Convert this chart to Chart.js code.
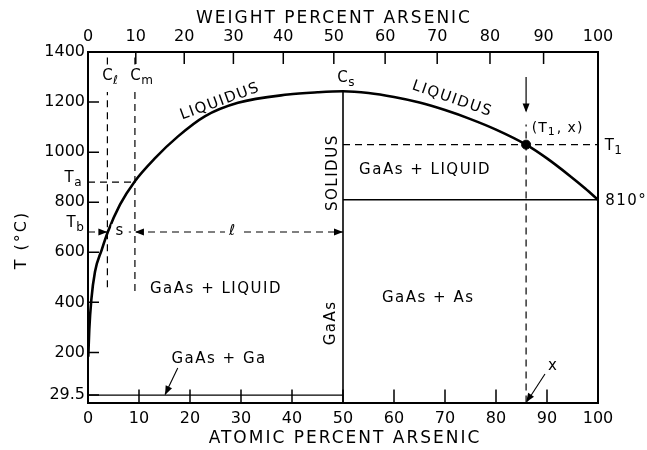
<!DOCTYPE html>
<html><head><meta charset="utf-8">
<script src="https://cdn.jsdelivr.net/npm/chart.js@4.4.1/dist/chart.umd.min.js"></script>
<style>html,body{margin:0;padding:0;background:#fff;}canvas{display:block;}</style>
</head><body>
<canvas id="c" width="647" height="450"></canvas>
<script>
// ---------------- data ----------------
const liquidusAtomic = [0.06, 0.25, 0.65, 1.37, 2.69, 3.92, 6.27, 9.16, 13.1, 17.65, 22.9, 29.4, 39.2, 45, 50, 55, 60, 65, 70, 75, 80, 85.9, 90, 94.5, 97.5, 100];
const liquidusTemp   = [183, 290, 410, 522, 610, 683, 790, 883, 975, 1063, 1143, 1197, 1230, 1239, 1243, 1236, 1220, 1198, 1168, 1132, 1090, 1030, 975, 905, 855, 810];

const gaEutecticT = 29.5;    // GaAs + Ga line
const asEutecticT = 810;     // GaAs + As line
const gaAsMeltT   = 1243;    // congruent melting point
const gaAsAtomic  = 50;      // stoichiometric GaAs
const T1 = 1030, X1 = 85.9;  // (T1, x)
const Ta = 880, Tb = 681;
const Cl = 3.8, Cm = 9.2;
const clTop = 1240, clBottom = 460;

const atomicTicks      = [0, 10, 20, 30, 40, 50, 60, 70, 80, 90, 100];
const weightLabels     = ['0', '10', '20', '30', '40', '50', '60', '70', '80', '90', '100'];
const weightTickAtomic = [0, 9.37, 18.87, 28.51, 38.29, 48.20, 58.26, 68.47, 78.82, 89.33, 100];
const tempTicks        = [29.5, 200, 400, 600, 800, 1000, 1200, 1400];

// ---------------- helpers ----------------
const FAM = '"DejaVu Sans", sans-serif';
const pts = (xs, ys) => xs.map((v, i) => ({x: v, y: ys[i]}));
function seg(data, o = {}) {
  return Object.assign({type: 'line', data, borderColor: '#000', backgroundColor: '#000',
    borderWidth: 1.5, pointRadius: 0, fill: false, tension: 0}, o);
}
const DASH = [7, 5];

const datasets = [
  seg(pts(liquidusAtomic, liquidusTemp), {borderWidth: 2.6, cubicInterpolationMode: 'monotone'}),
  seg(pts([gaAsAtomic, gaAsAtomic], [0, gaAsMeltT]), {borderWidth: 1.6}),
  seg(pts([0, gaAsAtomic], [gaEutecticT, gaEutecticT]), {borderWidth: 1.4}),
  seg(pts([gaAsAtomic, 100], [asEutecticT, asEutecticT]), {borderWidth: 1.4}),
  seg(pts([gaAsAtomic, 100], [T1, T1]), {borderWidth: 1.2, borderDash: DASH}),
  seg(pts([X1, X1], [0, 1110]), {borderWidth: 1.2, borderDash: DASH}),
  seg(pts([X1, X1], [1300, 1165]), {borderWidth: 1.2}),
  seg(pts([Cl, Cl], [clBottom, clTop]), {borderWidth: 1.2, borderDash: DASH}),
  seg(pts([Cl, Cl], [1350, 1400]), {borderWidth: 1.2, borderDash: DASH}),
  seg(pts([Cm, Cm], [clBottom - 15, clTop]), {borderWidth: 1.2, borderDash: DASH}),
  seg(pts([Cm, Cm], [1350, 1400]), {borderWidth: 1.2, borderDash: DASH}),
  seg(pts([0, Cm], [Ta, Ta]), {borderWidth: 1.2, borderDash: DASH}),
  seg(pts([0, gaAsAtomic], [Tb, Tb]), {borderWidth: 1.2, borderDash: DASH}),
  seg(pts([17.6, 15.1], [138, 32]), {borderWidth: 1.1}),
  seg(pts([89.6, 86.1], [114, 4]), {borderWidth: 1.1}),
  {type: 'scatter', data: [{x: X1, y: T1}], pointRadius: 4.5, pointBackgroundColor: '#000', pointBorderColor: '#000'}
];

const arrows = [
  {from: [17.6, 138], to: [15.1, 30]},
  {from: [89.6, 114], to: [85.9, 1]},
  {from: [X1, 1300], to: [X1, 1158]},
  {from: [1.0, Tb], to: [Cl, Tb]},
  {from: [12, Tb], to: [Cm, Tb]},
  {from: [47, Tb], to: [gaAsAtomic, Tb]}
];

const labels = [
  {t: 'LIQUIDUS', x: 25.9, y: 1202, rot: -20},
  {t: 'LIQUIDUS', x: 71.4, y: 1212, rot: 19},
  {t: 'SOLIDUS', x: 48.0, y: 918, rot: -90},
  {t: 'GaAs + LIQUID', x: 66.1, y: 930},
  {t: 'GaAs + LIQUID', x: 25.1, y: 454},
  {t: 'GaAs + As', x: 66.7, y: 418},
  {t: 'GaAs', x: 47.6, y: 318, rot: -90},
  {t: 'GaAs + Ga', x: 25.7, y: 174},
  {t: '810°', x: 101.4, y: 806, align: 'left'},
  {t: 's', x: 6.3, y: 684, bg: true},
  {t: 'ℓ', x: 28.4, y: 684, bg: true},
  {t: 'x', x: 91.2, y: 146}
];
const subLabels = [
  {m: 'T', s: 'a', x: -3.7, y: 898},
  {m: 'T', s: 'b', x: -3.3, y: 718},
  {m: 'T', s: '1', x: 102.2, y: 1026},
  {m: 'C', s: 'ℓ', x: 3.8, y: 1304},
  {m: 'C', s: 'm', x: 9.3, y: 1304},
  {m: 'C', s: 's', x: 49.9, y: 1296}
];

function head(ctx, x1, y1, x2, y2, len = 9, half = 3.5) {
  const a = Math.atan2(y2 - y1, x2 - x1);
  ctx.beginPath();
  ctx.moveTo(x2, y2);
  ctx.lineTo(x2 - len * Math.cos(a) + half * Math.sin(a), y2 - len * Math.sin(a) - half * Math.cos(a));
  ctx.lineTo(x2 - len * Math.cos(a) - half * Math.sin(a), y2 - len * Math.sin(a) + half * Math.cos(a));
  ctx.closePath();
  ctx.fill();
}

const tickPlugin = {
  id: 'ticksIn',
  afterDraw(chart) {
    const {ctx, chartArea} = chart;
    const sx = chart.scales.x, sx2 = chart.scales.x2, sy = chart.scales.y;
    ctx.save();
    ctx.setLineDash([]);
    ctx.strokeStyle = '#000';
    ctx.lineWidth = 1.5;
    ctx.beginPath();
    atomicTicks.forEach(v => { const p = sx.getPixelForValue(v); ctx.moveTo(p, chartArea.bottom); ctx.lineTo(p, chartArea.bottom - 13); });
    weightTickAtomic.forEach(v => { const p = sx2.getPixelForValue(v); ctx.moveTo(p, chartArea.top); ctx.lineTo(p, chartArea.top + 12); });
    tempTicks.forEach(v => { const p = sy.getPixelForValue(v); ctx.moveTo(chartArea.left, p); ctx.lineTo(chartArea.left + 11, p); });
    ctx.stroke();
    ctx.restore();
  }
};

const annot = {
  id: 'annot',
  afterDraw(chart) {
    const {ctx} = chart;
    const sx = chart.scales.x, sy = chart.scales.y;
    const px = v => sx.getPixelForValue(v), py = v => sy.getPixelForValue(v);
    ctx.save();
    ctx.setLineDash([]);
    ctx.fillStyle = '#000';
    // arrowheads
    arrows.forEach(a => head(ctx, px(a.from[0]), py(a.from[1]), px(a.to[0]), py(a.to[1])));
    // plain labels
    ctx.textBaseline = 'middle';
    labels.forEach(l => {
      ctx.save();
      ctx.font = `15px ${FAM}`;
      ctx.letterSpacing = '1.5px';
      ctx.translate(px(l.x), py(l.y));
      ctx.rotate((l.rot || 0) * Math.PI / 180);
      ctx.textAlign = l.align || 'center';
      if (l.bg) {
        const w = ctx.measureText(l.t).width;
        ctx.fillStyle = '#fff';
        ctx.fillRect(-w / 2 - 4, -7, w + 8, 14);
        ctx.fillStyle = '#000';
      }
      ctx.fillText(l.t, 0, 0);
      ctx.restore();
    });
    // main + subscript labels
    subLabels.forEach(l => {
      ctx.save();
      ctx.font = `15px ${FAM}`;
      ctx.textAlign = 'left';
      const cx = px(l.x), cy = py(l.y);
      const w = ctx.measureText(l.m).width;
      ctx.fillText(l.m, cx - w / 2, cy);
      ctx.font = `12px ${FAM}`;
      ctx.fillText(l.s, cx + w / 2 + 0.5, cy + 5);
      ctx.restore();
    });
    // (T1, x)
    ctx.save();
    ctx.letterSpacing = '1px';
    ctx.textAlign = 'left';
    let cx = px(87.0); const cy = py(1096);
    ctx.font = `14px ${FAM}`;
    ctx.fillText('(T', cx, cy); cx += ctx.measureText('(T').width;
    ctx.font = `11px ${FAM}`;
    ctx.fillText('1', cx, cy + 4); cx += ctx.measureText('1').width + 1;
    ctx.font = `14px ${FAM}`;
    ctx.fillText(', x)', cx, cy);
    ctx.restore();
    // axis titles
    ctx.save();
    ctx.font = `17px ${FAM}`;
    ctx.letterSpacing = '2px';
    ctx.textAlign = 'center';
    ctx.textBaseline = 'middle';
    ctx.fillText('WEIGHT PERCENT ARSENIC', 334, 18.5);
    ctx.fillText('ATOMIC PERCENT ARSENIC', 345, 438.5);
    ctx.translate(22, 240);
    ctx.rotate(-Math.PI / 2);
    ctx.font = `16px ${FAM}`;
    ctx.fillText('T (°C)', 0, 0);
    ctx.restore();
    ctx.restore();
  }
};

const tickFont = {family: FAM, size: 16};
const noGrid = {display: false, drawTicks: false, drawOnChartArea: false};
new Chart(document.getElementById('c'), {
  type: 'line',
  data: {datasets},
  plugins: [tickPlugin, annot],
  options: {
    responsive: false,
    animation: false,
    layout: {padding: 0},
    plugins: {legend: {display: false}, tooltip: {enabled: false}},
    scales: {
      x: {
        type: 'linear', position: 'bottom', min: 0, max: 100,
        afterBuildTicks: s => { s.ticks = atomicTicks.map(v => ({value: v})); },
        ticks: {color: '#000', font: tickFont, padding: 7, maxRotation: 0, autoSkip: false, callback: v => String(v)},
        grid: noGrid,
        border: {display: true, color: '#000', width: 2},
        afterFit: s => { s.height = 47.5; }
      },
      x2: {
        type: 'linear', position: 'top', min: 0, max: 100,
        afterBuildTicks: s => { s.ticks = weightTickAtomic.map(v => ({value: v})); },
        ticks: {color: '#000', font: tickFont, padding: 6, maxRotation: 0, autoSkip: false,
          callback: (v, i) => weightLabels[i]},
        grid: noGrid,
        border: {display: true, color: '#000', width: 2},
        afterFit: s => { s.height = 52; }
      },
      y: {
        type: 'linear', position: 'left', min: 0, max: 1400,
        afterBuildTicks: s => { s.ticks = tempTicks.map(v => ({value: v})); },
        ticks: {color: '#000', font: tickFont, padding: 3, autoSkip: false, callback: v => String(v)},
        grid: noGrid,
        border: {display: true, color: '#000', width: 2},
        afterFit: s => { s.width = 88; }
      },
      y2: {
        type: 'linear', position: 'right', min: 0, max: 1400,
        ticks: {display: false},
        grid: noGrid,
        border: {display: true, color: '#000', width: 2},
        afterFit: s => { s.width = 49; }
      }
    }
  }
});
</script>
</body></html>
